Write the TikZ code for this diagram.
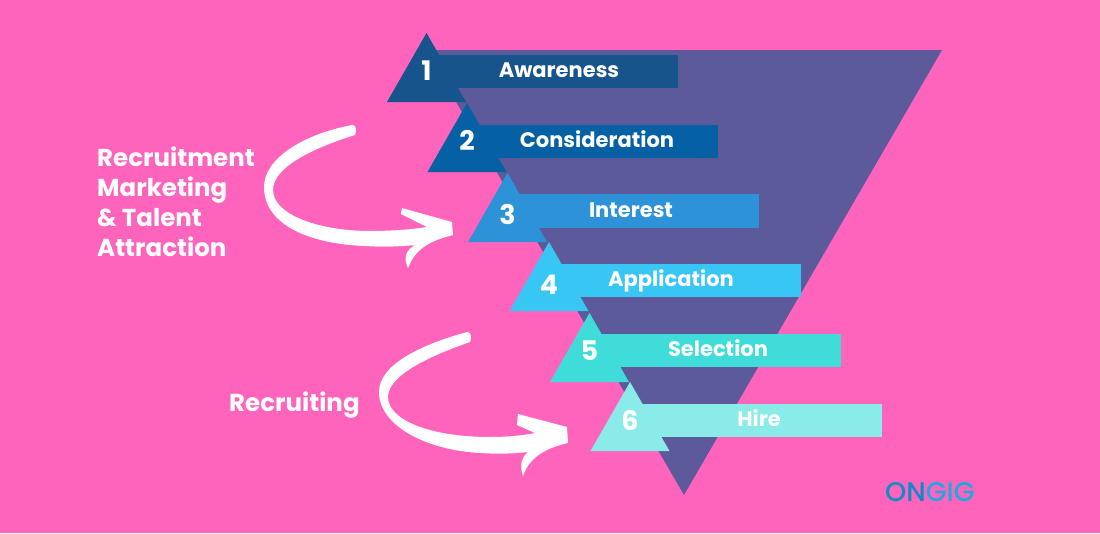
\documentclass[tikz,border=0pt]{standalone}
\usepackage{fontspec}
\setmainfont{Poppins}
\newfontfamily\logofont{Poppins Medium}
\usepackage{xcolor}
\usetikzlibrary{positioning,calc}
\definecolor{bgpink}{HTML}{FF64BD}
\definecolor{funnelc}{HTML}{5C5A9A}
\definecolor{stepa}{HTML}{17548C}
\definecolor{stepb}{HTML}{0561A3}
\definecolor{stepc}{HTML}{2E92D9}
\definecolor{stepd}{HTML}{38C6F4}
\definecolor{stepe}{HTML}{40DCD9}
\definecolor{stepf}{HTML}{8AEBE8}
\definecolor{logoa}{HTML}{0A8CC8}
\definecolor{logob}{HTML}{1DA9E0}
\tikzset{
  steptext/.style={text=white,font=\fontsize{21}{24}\selectfont\bfseries,inner sep=0pt,anchor=base},
  stepnum/.style={text=white,font=\fontsize{27}{28}\selectfont\bfseries,inner sep=0pt,anchor=base},
  sidetext/.style={text=white,font=\fontsize{24.5}{30}\selectfont\bfseries,inner sep=0pt,align=left,anchor=west},
  logotext/.style={font=\fontsize{27}{30}\logofont\selectfont,inner sep=0pt,anchor=base west}
}
\begin{document}
\begin{tikzpicture}[x=1pt,y=-1pt]
  \fill[bgpink] (0,0) rectangle (1100,533);%background
  \useasboundingbox (0,0) rectangle (1100,533);
  \fill[funnelc] (426,50)--(942,50)--(684,495)--cycle;%funnel
  % steps: number/apex x/apex y/bar top/bar end/colour/label x/label/baselines
  \foreach \n/\ax/\ay/\by/\bx/\col/\lx/\lab/\ly/\ny in {
      1/426.5/33/54.7/677.5/stepa/559/Awareness/77/80,
      2/467/103/124.7/718/stepb/597/Consideration/147/150,
      3/507.5/173/194.3/758.5/stepc/631/Interest/217/224,
      4/549/242/264/800.5/stepd/671/Application/286/294,
      5/589.5/313/334/841/stepe/718/Selection/356/360,
      6/630/382/403.7/881.5/stepf/759/Hire/426/430}{
    \fill[\col] (\ax,\ay)--++(39.5,69)--++(-79,0)--cycle;
    \fill[\col] (\ax,\by) rectangle (\bx,\by+33.3);
    \node[stepnum] (num\n) at (\ax,\ny) {\n};
    \node[steptext] (lab\n) at (\lx,\ly) {\lab};
  }
  % upper arrow
  \fill[white] (355,135) .. controls (320,146) and (273,165) .. (273,190)
    .. controls (273,215) and (320,231) .. (370,231)
    .. controls (395,231) and (415,229) .. (427,227)
    --(401,214)--(402,208)--(452,222)--(453,235)
    .. controls (435,240) and (417,245) .. (408,268)
    .. controls (403,258) and (406,250) .. (415,245)
    .. controls (395,247) and (380,247) .. (365,246)
    .. controls (310,244) and (264,225) .. (264,187)
    .. controls (264,160) and (300,135) .. (352,125)
    .. controls (356,124) and (357,131) .. (355,135)--cycle;
  % lower arrow
  \fill[white] (470,342) .. controls (430,356) and (388,375) .. (388,397)
    .. controls (388,420) and (430,437) .. (490,437)
    .. controls (510,437) and (525,435) .. (535,433)
    --(517,425)--(518,414)--(567,427)--(568,443)
    .. controls (550,447) and (530,455) .. (523,476)
    .. controls (519,465) and (522,457) .. (528,452)
    .. controls (510,454) and (495,454) .. (480,453)
    .. controls (425,450) and (379,425) .. (379,392)
    .. controls (379,365) and (420,345) .. (467,332)
    .. controls (471,331) and (472,339) .. (470,342)--cycle;
  \node[sidetext] (attract) at (97,201.5) {Recruitment\\Marketing\\\& Talent\\Attraction};
  \node[sidetext] (recruit) at (229,405) {Recruiting};
  \node[logotext] (logo) at (885,501) {\textcolor{logoa}{ON}\textcolor{logob}{GIG}};
\end{tikzpicture}
\end{document}
